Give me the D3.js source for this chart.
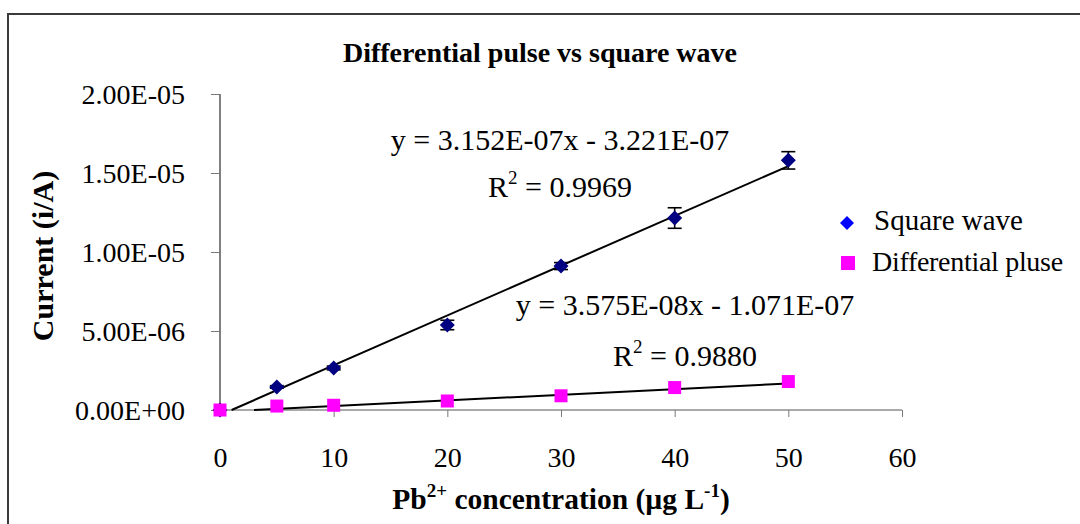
<!DOCTYPE html>
<html><head><meta charset="utf-8">
<script src="https://cdn.jsdelivr.net/npm/d3@7/dist/d3.min.js"></script>
<style>
html,body{margin:0;padding:0;background:#fff;}
svg{display:block;font-family:"Liberation Serif","Times New Roman",serif;}
</style></head>
<body>
<svg id="chart" width="1080" height="524"></svg>
<script>
const concentrations = [0, 5, 10, 20, 30, 40, 50];
const squareWave = [0, 1.46e-6, 2.66e-6, 5.38e-6, 9.11e-6, 12.15e-6, 15.8e-6];
const squareWaveErr = [0, 0.08e-6, 0.12e-6, 0.3e-6, 0.22e-6, 0.65e-6, 0.55e-6];
const diffPulse = [0, 0.25e-6, 0.3e-6, 0.57e-6, 0.9e-6, 1.42e-6, 1.8e-6];
const xTicks = [0, 10, 20, 30, 40, 50, 60];
const yTicks = [0, 5e-6, 1e-5, 1.5e-5, 2e-5];
const seriesNames = ["Square wave", "Differential pluse"];
const fitSlopes = [3.152e-7, 3.575e-8];
const fitIntercepts = [-3.221e-7, -1.071e-7];
const fitLabels = ["y = 3.152E-07x - 3.221E-07", "y = 3.575E-08x - 1.071E-07"];
const r2Values = ["0.9969", "0.9880"];
const titleText = "Differential pulse vs square wave";

const svg = d3.select("#chart");
const x = d3.scaleLinear().domain([0, 60]).range([220, 902]);
const y = d3.scaleLinear().domain([0, 2e-5]).range([410, 94]);

// outer frame
svg.append("rect").attr("x", 8).attr("y", 14).attr("width", 1200).attr("height", 700)
  .attr("fill", "none").attr("stroke", "#3a3a3a").attr("stroke-width", 2);

// title
svg.append("text").attr("x", 540).attr("y", 62).attr("text-anchor", "middle")
  .attr("font-size", 28).attr("font-weight", "bold").text(titleText);

const fmt = v => {
  const [m, e] = v.toExponential(2).split("e");
  const n = parseInt(e, 10);
  return m + "E" + (n < 0 ? "-" : "+") + String(Math.abs(n)).padStart(2, "0");
};

// y axis
const yAxis = d3.axisLeft(y).tickValues(yTicks).tickFormat(fmt).tickSize(9).tickPadding(26);
const gy = svg.append("g").attr("transform", "translate(220,0)").call(yAxis);
gy.select(".domain").attr("stroke", "#000").attr("d", "M0,94V416");
gy.selectAll(".tick line").attr("stroke", "#777");
gy.selectAll(".tick text").attr("font-size", 28).attr("font-family", "Liberation Serif").attr("fill", "#000").attr("dy", "0.34em");

// x axis
const xAxis = d3.axisBottom(x).tickValues(xTicks).tickFormat(d3.format("d")).tickSize(7).tickPadding(30);
const gx = svg.append("g").attr("transform", "translate(0,410)").call(xAxis);
gx.select(".domain").attr("stroke", "#555").attr("d", "M220,0H902");
gx.selectAll(".tick line").attr("stroke", "#777");
gx.selectAll(".tick text").attr("font-size", 28).attr("font-family", "Liberation Serif").attr("fill", "#000");

// axis titles
svg.append("text").attr("transform", "translate(53,256) rotate(-90)").attr("text-anchor", "middle")
  .attr("font-size", 30).attr("font-weight", "bold").text("Current (i/A)");

const xt = svg.append("text").attr("x", 561).attr("y", 509).attr("text-anchor", "middle")
  .attr("font-size", 29.5).attr("font-weight", "bold");
xt.append("tspan").text("Pb");
xt.append("tspan").attr("dy", -12).attr("font-size", 19).text("2+");
xt.append("tspan").attr("dy", 12).text(" concentration (µg L");
xt.append("tspan").attr("dy", -12).attr("font-size", 19).text("-1");
xt.append("tspan").attr("dy", 12).text(")");

// trend lines
fitSlopes.forEach((m, i) => {
  const b = fitIntercepts[i];
  const x0 = Math.max(0, -b / m);
  const x1 = 50;
  svg.append("line")
    .attr("x1", x(x0)).attr("y1", y(m * x0 + b))
    .attr("x2", x(x1)).attr("y2", y(m * x1 + b))
    .attr("stroke", "#000").attr("stroke-width", 2);
});

// error bars
const eb = svg.append("g").attr("stroke", "#000").attr("stroke-width", 1.6);
concentrations.forEach((c, i) => {
  const e = squareWaveErr[i];
  if (!e) return;
  const cx = x(c), yt = y(squareWave[i] + e), yb = y(squareWave[i] - e);
  eb.append("line").attr("x1", cx).attr("x2", cx).attr("y1", yt).attr("y2", yb);
  eb.append("line").attr("x1", cx - 7).attr("x2", cx + 7).attr("y1", yt).attr("y2", yt);
  eb.append("line").attr("x1", cx - 7).attr("x2", cx + 7).attr("y1", yb).attr("y2", yb);
});

// markers
const diamondPath = s => `M0,${-s}L${s},0L0,${s}L${-s},0Z`;
svg.append("g").selectAll("path").data(concentrations).join("path")
  .attr("d", diamondPath(7.5))
  .attr("transform", (d, i) => `translate(${x(d)},${y(squareWave[i])})`)
  .attr("fill", "#000080");

svg.append("g").selectAll("rect").data(concentrations).join("rect")
  .attr("x", d => x(d) - 6.5).attr("y", (d, i) => y(diffPulse[i]) - 6.5)
  .attr("width", 13).attr("height", 13).attr("fill", "#FF00FF");

// equations
const eqPos = [{cx: 560, y1: 150, y2: 197}, {cx: 685, y1: 315, y2: 366}];
fitLabels.forEach((lbl, i) => {
  const p = eqPos[i];
  svg.append("text").attr("x", p.cx).attr("y", p.y1).attr("text-anchor", "middle")
    .attr("font-size", 30).text(lbl);
  const r = svg.append("text").attr("x", p.cx).attr("y", p.y2).attr("text-anchor", "middle")
    .attr("font-size", 30);
  r.append("tspan").text("R");
  r.append("tspan").attr("dy", -13).attr("font-size", 19).text("2");
  r.append("tspan").attr("dy", 13).text(" = " + r2Values[i]);
});

// legend
const lg = svg.append("g");
lg.append("path").attr("d", diamondPath(7)).attr("transform", "translate(847,223)").attr("fill", "#0000FF");
lg.append("text").attr("x", 874).attr("y", 230).attr("font-size", 29).text(seriesNames[0]);
lg.append("rect").attr("x", 841).attr("y", 256).attr("width", 14).attr("height", 14).attr("fill", "#FF00FF");
lg.append("text").attr("x", 872).attr("y", 271).attr("font-size", 28).attr("letter-spacing", -0.3).text(seriesNames[1]);
</script>
</body></html>
